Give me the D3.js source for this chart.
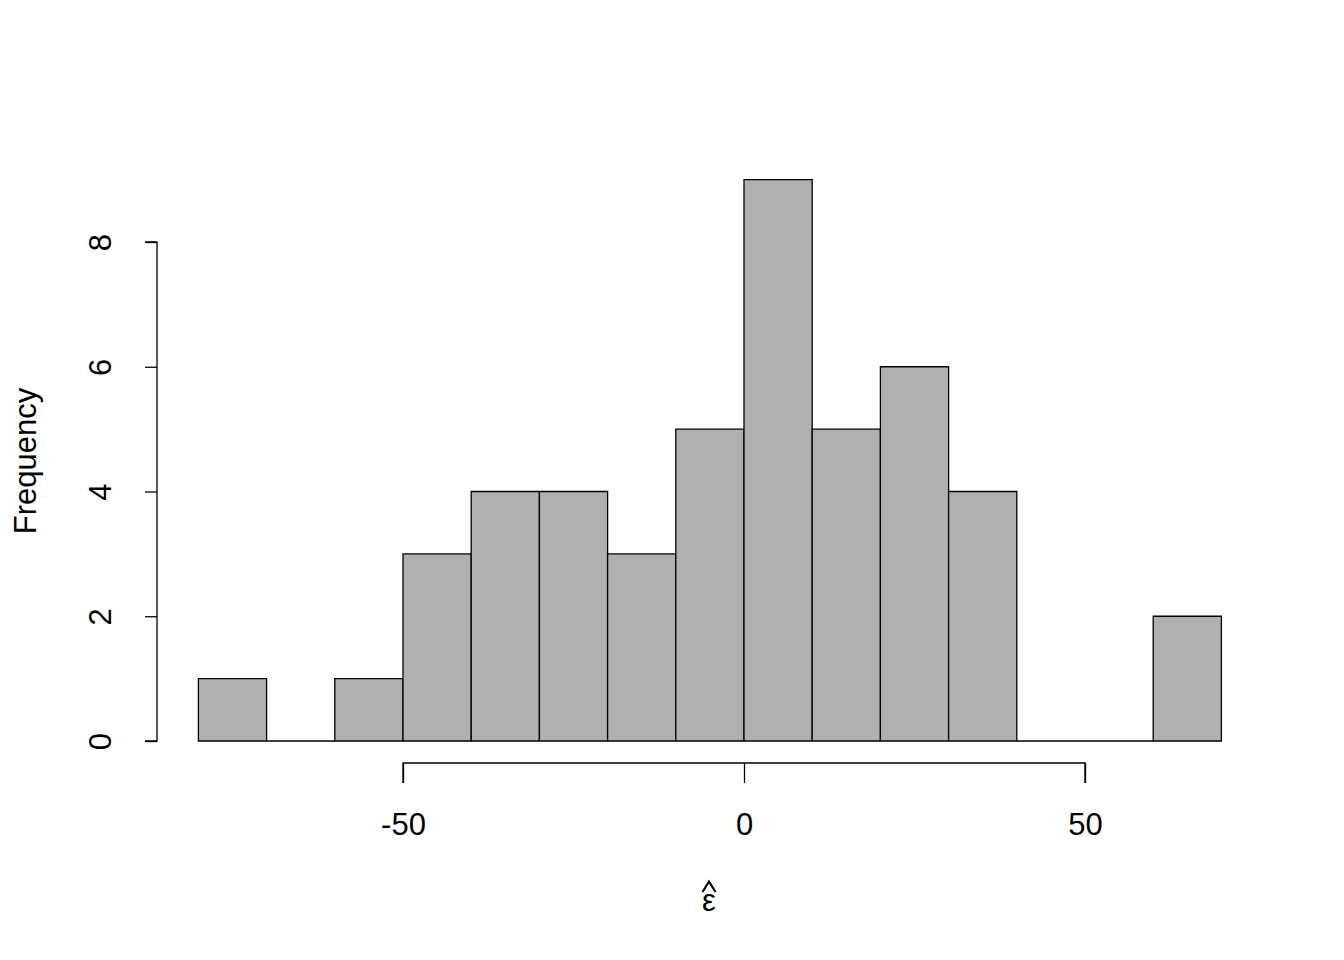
<!DOCTYPE html>
<html><head><meta charset="utf-8">
<script src="https://cdn.jsdelivr.net/npm/d3@7"></script>
<style>body{margin:0;background:#fff}</style>
</head><body>
<svg id="c" width="1344" height="960"></svg>
<script>
const binStarts = [-80,-70,-60,-50,-40,-30,-20,-10,0,10,20,30,40,50,60];
const binWidth = 10;
const counts = [1,0,1,3,4,4,3,5,9,5,6,4,0,0,2];
const xTicks = [-50,0,50];
const yTicks = [0,2,4,6,8];

const svg = d3.select("#c");
const font = "Liberation Sans, Arial, Helvetica, sans-serif";
const fs = 31;
const x = d3.scaleLinear().domain([-50,50]).range([403,1085]);
const y = d3.scaleLinear().domain([0,8]).range([741,242]);

svg.append("g").selectAll("path").data(binStarts).join("path")
  .attr("d", (d,i)=>{
    const x0=x(d), x1=x(d+binWidth), y0=y(0), y1=y(counts[i]);
    return `M${x0},${y0}V${y1}H${x1}V${y0}Z`;
  })
  .attr("fill","#b0b0b0").attr("stroke","#000").attr("stroke-width",1.3);

const gx = svg.append("g").attr("transform","translate(0,763)")
  .call(d3.axisBottom(x).tickValues(xTicks).tickSize(20).tickPadding(30).tickFormat(d=>String(d)));
const gy = svg.append("g").attr("transform","translate(157,0)")
  .call(d3.axisLeft(y).tickValues(yTicks).tickSize(12).tickPadding(0).tickFormat(d=>String(d)));
[gx,gy].forEach(g=>{
  g.attr("font-size",fs).attr("font-family",font);
  g.select(".domain").attr("stroke","#000").attr("stroke-width",1.3);
  g.selectAll(".tick line").attr("stroke","#000").attr("stroke-width",1.3);
  g.selectAll("text").attr("font-family",font).attr("font-size",fs).attr("fill","#000");
});
gx.select(".domain").attr("d", `M${x(-50)},20V0H${x(50)}V20`);
gy.select(".domain").attr("d", `M-12,${y(0)}H0V${y(8)}H-12`);
gy.selectAll(".tick text").attr("text-anchor","middle").attr("dy",null)
  .attr("transform","translate(-57,0) rotate(-90)").attr("x",0).attr("y",0)
  .attr("dominant-baseline","central");

svg.append("text").attr("transform","translate(25,461) rotate(-90)")
  .attr("text-anchor","middle").attr("dominant-baseline","central")
  .attr("font-family",font).attr("font-size",fs).text("Frequency");
svg.append("text").attr("x",709).attr("y",911).attr("text-anchor","middle")
  .attr("font-family",font).attr("font-size",fs).text("ε");
// circumflex accent over epsilon
svg.append("path").attr("d","M702.5,892L709,881.5L715.5,892")
  .attr("fill","none").attr("stroke","#000").attr("stroke-width",2.2);
</script>
</body></html>
